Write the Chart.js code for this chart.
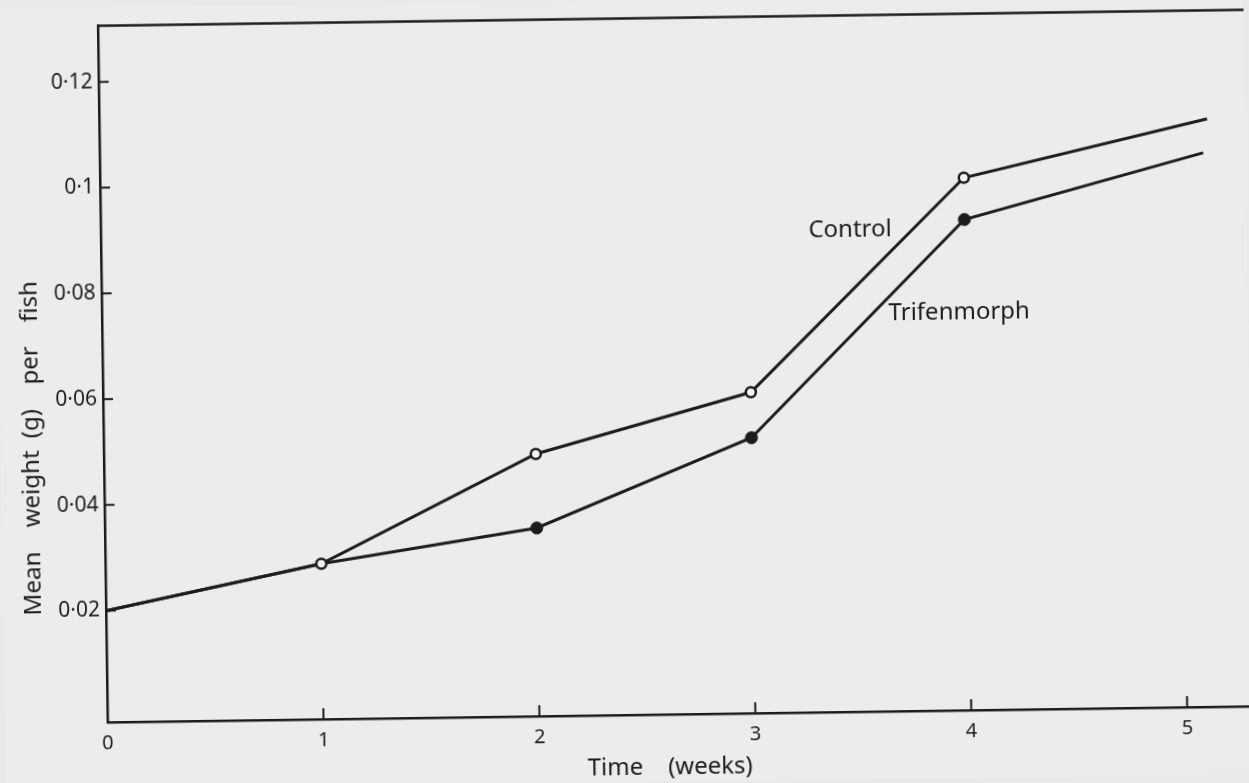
<!DOCTYPE html>
<html>
<head>
<meta charset="utf-8">
<script src="https://cdn.jsdelivr.net/npm/chart.js@4.4.1/dist/chart.umd.min.js"></script>
<style>
  html, body { margin: 0; padding: 0; background: #e9e9e9; overflow: hidden; }
  canvas { display: block; transform: rotate(-0.8deg); }
</style>
</head>
<body>
<canvas id="growth" width="1249" height="783"></canvas>
<script>
// values
const controlWeeks = [0, 1, 2, 3, 4, 5.13];
const controlWeight = [0.020, 0.0283, 0.0485, 0.0596, 0.0996, 0.1101];
const trifenWeeks = [0, 1, 2, 3, 4, 5.11];
const trifenWeight = [0.020, 0.0283, 0.0345, 0.0510, 0.0917, 0.1037];
const xTicks = [0, 1, 2, 3, 4, 5];
const xTickLabels = ['0', '1', '2', '3', '4', '5'];
const yTicks = [0.02, 0.04, 0.06, 0.08, 0.1, 0.12];
const yTickLabels = ['0·02', '0·04', '0·06', '0·08', '0·1', '0·12'];
const seriesNames = ['Control', 'Trifenmorph'];

const ink = '#1c1c1c';
const paper = '#ececec';
const font = '"Noto Sans", "DejaVu Sans", sans-serif';

// where the hand lettering sits, in data units
const seriesLabelAt = [
  { x: 3.47, y: 0.0901 },
  { x: 3.97, y: 0.0742 },
];

const toPoints = (xs, ys) => xs.map((x, i) => ({ x, y: ys[i] }));

const inkPlugin = {
  id: 'ink',
  beforeDraw(chart) {
    const { ctx, width, height } = chart;
    ctx.save();
    ctx.fillStyle = paper;
    ctx.fillRect(0, 0, width, height);
    ctx.restore();
  },
  afterDraw(chart) {
    const { ctx, chartArea, scales: { x, y } } = chart;
    ctx.save();
    ctx.strokeStyle = ink;
    ctx.lineWidth = 2.5;

    // top frame line
    ctx.beginPath();
    ctx.moveTo(chartArea.left, chartArea.top);
    ctx.lineTo(chartArea.right, chartArea.top);
    ctx.stroke();

    // tick marks point inward
    ctx.lineWidth = 2;
    xTicks.forEach((v) => {
      if (v === 0) return;
      const px = x.getPixelForValue(v);
      ctx.beginPath();
      ctx.moveTo(px, chartArea.bottom);
      ctx.lineTo(px, chartArea.bottom - 11);
      ctx.stroke();
    });
    yTicks.forEach((v) => {
      const py = y.getPixelForValue(v);
      ctx.beginPath();
      ctx.moveTo(chartArea.left, py);
      ctx.lineTo(chartArea.left + 10, py);
      ctx.stroke();
    });

    // series labels
    ctx.fillStyle = ink;
    ctx.textAlign = 'center';
    ctx.textBaseline = 'middle';
    ctx.font = '24px ' + font;
    seriesNames.forEach((name, i) => {
      const at = seriesLabelAt[i];
      ctx.fillText(name, x.getPixelForValue(at.x), y.getPixelForValue(at.y));
    });

    // axis titles
    ctx.font = '24px ' + font;
    ctx.fillText('Time    (weeks)', 665, 768);
    ctx.save();
    ctx.font = '24px ' + font;
    ctx.wordSpacing = '6px';
    ctx.translate(31, 440);
    ctx.rotate(-Math.PI / 2);
    ctx.fillText('Mean  weight (g)  per  fish', 0, 0);
    ctx.restore();

    ctx.restore();
  },
};

const ctx = document.getElementById('growth').getContext('2d');
new Chart(ctx, {
  type: 'line',
  data: {
    datasets: [
      {
        label: seriesNames[0],
        data: toPoints(controlWeeks, controlWeight),
        borderColor: ink,
        borderWidth: 3,
        pointRadius: (c) => (c.dataIndex === 0 || c.dataIndex === controlWeeks.length - 1 ? 0 : 5),
        pointBackgroundColor: '#f4f4f4',
        pointBorderColor: ink,
        pointBorderWidth: 2.5,
        tension: 0,
        order: 1,
      },
      {
        label: seriesNames[1],
        data: toPoints(trifenWeeks, trifenWeight),
        borderColor: ink,
        borderWidth: 3,
        pointRadius: (c) => (c.dataIndex < 2 || c.dataIndex === trifenWeeks.length - 1 ? 0 : 6),
        pointBackgroundColor: ink,
        pointBorderColor: ink,
        pointBorderWidth: 1,
        tension: 0,
        order: 2,
      },
    ],
  },
  options: {
    responsive: false,
    animation: false,
    layout: { padding: { top: 17, right: 0, left: 0, bottom: 0 } },
    plugins: {
      legend: { display: false },
      tooltip: { enabled: false },
    },
    scales: {
      x: {
        type: 'linear',
        min: 0,
        max: 5.307,
        afterBuildTicks: (scale) => {
          scale.ticks = xTicks.map((value) => ({ value }));
        },
        afterFit: (scale) => {
          scale.height = 68;
        },
        grid: { display: false, drawTicks: false },
        border: { display: true, color: ink, width: 2.5 },
        ticks: {
          color: ink,
          padding: 9,
          maxRotation: 0,
          autoSkip: false,
          font: { family: font, size: 20 },
          callback: (v) => xTickLabels[xTicks.indexOf(v)] ?? '',
        },
      },
      y: {
        type: 'linear',
        min: -0.0011,
        max: 0.1306,
        afterBuildTicks: (scale) => {
          scale.ticks = yTicks.map((value) => ({ value }));
        },
        afterFit: (scale) => {
          scale.width = 103;
        },
        grid: { display: false, drawTicks: false },
        border: { display: true, color: ink, width: 2.5 },
        ticks: {
          color: ink,
          padding: 6,
          autoSkip: false,
          font: { family: font, size: 21 },
          callback: (v) => yTickLabels[yTicks.findIndex((t) => Math.abs(t - v) < 1e-9)] ?? '',
        },
      },
    },
  },
  plugins: [inkPlugin],
});
</script>
</body>
</html>
